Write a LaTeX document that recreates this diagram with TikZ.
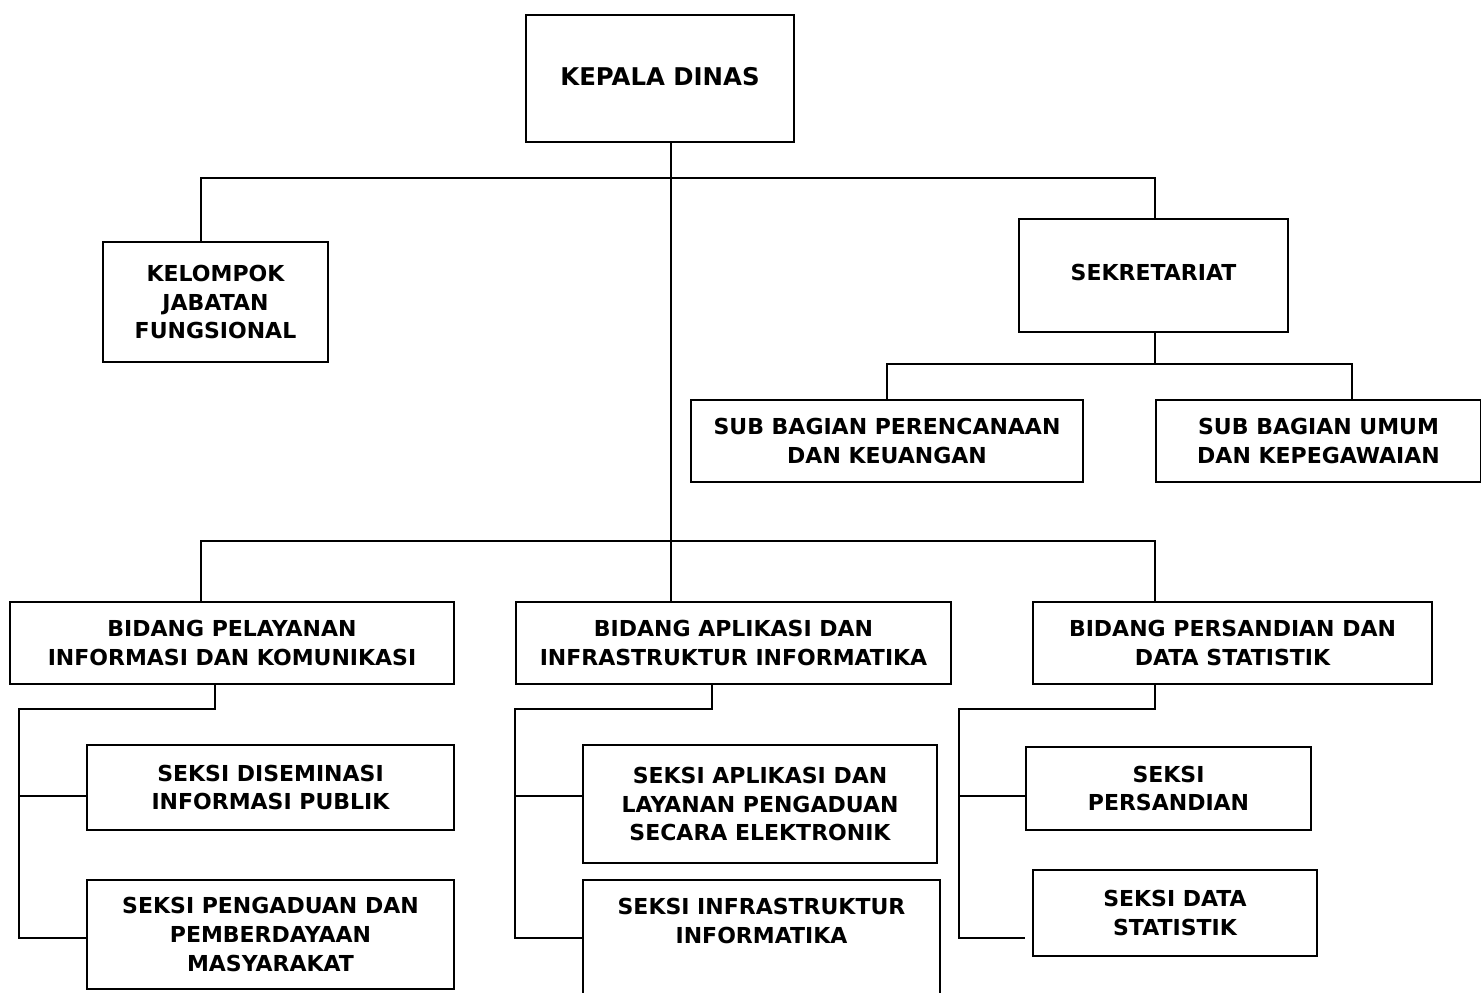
\documentclass[tikz,border=0pt]{standalone}
\usepackage{fontspec}
\setmainfont{DejaVu Sans}
\usetikzlibrary{positioning}

\begin{document}
\begin{tikzpicture}
  [
    x = 0.5pt, y = -0.5pt,
    unit/.style = {draw, line width = 1pt, anchor = north west, align = center,
        inner sep = 0pt, font = \bfseries\fontsize{11}{14.3}\selectfont},
    caption/.style = {align = center, inner sep = 0pt,
        font = \bfseries\fontsize{11}{14.3}\selectfont},
    conn/.style = {draw, line width = 0.8pt},
  ]
  \clip (0,0) rectangle (1481,992);

  \coordinate (xa) at (201,0);
  \coordinate (xb) at (671,0);
  \coordinate (xc) at (1155,0);
  \coordinate (xd) at (1352,0);
  \coordinate (d1) at (215,0);
  \coordinate (d2) at (712,0);
  \coordinate (r1) at (19,0);
  \coordinate (r2) at (515,0);
  \coordinate (r3) at (959,0);
  \coordinate (ya) at (0,796);
  \coordinate (yb) at (0,938);

  \node[unit, minimum width = 134pt, minimum height = 63.5pt,
    font = \bfseries\fontsize{12.2}{14.3}\selectfont] (kadis) at (525,14) {\raisebox{2pt}{KEPALA DINAS}};
  \node[unit, minimum width = 112.5pt, minimum height = 60pt] (jabfung) at (102,241) {KELOMPOK\\JABATAN\\FUNGSIONAL};
  \node[unit, minimum width = 134.5pt, minimum height = 56.5pt] (sekret) at (1018,218) {\raisebox{3pt}{SEKRETARIAT}};
  \node[unit, minimum width = 196pt, minimum height = 41pt] (subren) at (690,399) {SUB BAGIAN PERENCANAAN\\DAN KEUANGAN};
  \node[unit, minimum width = 162.5pt, minimum height = 41pt] (subum) at (1155,399) {SUB BAGIAN UMUM\\DAN KEPEGAWAIAN};

  \node[unit, minimum width = 222pt, minimum height = 41pt] (bpel) at (9,601) {BIDANG PELAYANAN\\INFORMASI DAN KOMUNIKASI};
  \node[unit, minimum width = 217.5pt, minimum height = 41pt] (bapl) at (515,601) {BIDANG APLIKASI DAN\\INFRASTRUKTUR INFORMATIKA};
  \node[unit, minimum width = 199.5pt, minimum height = 41pt] (bper) at (1032,601) {BIDANG PERSANDIAN DAN\\DATA STATISTIK};

  \node[unit, minimum width = 183.5pt, minimum height = 42.5pt] (sdis) at (86,744) {SEKSI DISEMINASI\\INFORMASI PUBLIK};
  \node[unit, minimum width = 183.5pt, minimum height = 54.5pt] (spen) at (86,879) {SEKSI PENGADUAN DAN\\PEMBERDAYAAN\\MASYARAKAT};
  \node[unit, minimum width = 177pt, minimum height = 59pt] (sapl) at (582,744) {SEKSI APLIKASI DAN\\LAYANAN PENGADUAN\\SECARA ELEKTRONIK};
  \node[unit, minimum width = 178.5pt, minimum height = 70pt] (sinf) at (582,879) {};
  \node[caption, below = 9.5pt of sinf.north] (sinftxt) {SEKSI INFRASTRUKTUR\\INFORMATIKA};
  \node[unit, minimum width = 142.5pt, minimum height = 41.5pt] (sper) at (1025,746) {SEKSI\\PERSANDIAN};
  \node[unit, minimum width = 142pt, minimum height = 43pt] (sdat) at (1032,869) {SEKSI DATA\\STATISTIK};

  % garis komando utama
  \draw[conn] (kadis.south -| xb) -- (bapl.north -| xb);
  \draw[conn] (jabfung.north -| xa) -- ++(0,-63) -| (sekret.north -| xc);
  \draw[conn] (bpel.north -| xa) -- ++(0,-60) -| (bper.north -| xc);

  % sekretariat
  \draw[conn] (sekret.south -| xc) -- ++(0,31) -| (subren.north);
  \draw[conn] (sekret.south -| xc) -- ++(0,31) -| (subum.north -| xd);

  % seksi
  \draw[conn] (bpel.south -| d1) -- ++(0,24) -| (r1 |- yb) -- (spen.west |- yb);
  \draw[conn] (r1 |- ya) -- (sdis.west |- ya);
  \draw[conn] (bapl.south -| d2) -- ++(0,24) -| (r2 |- yb) -- (sinf.west |- yb);
  \draw[conn] (r2 |- ya) -- (sapl.west |- ya);
  \draw[conn] (bper.south -| xc) -- ++(0,24) -| (r3 |- yb) -- (sper.west |- yb);
  \draw[conn] (r3 |- ya) -- (sper.west |- ya);

\end{tikzpicture}
\end{document}
